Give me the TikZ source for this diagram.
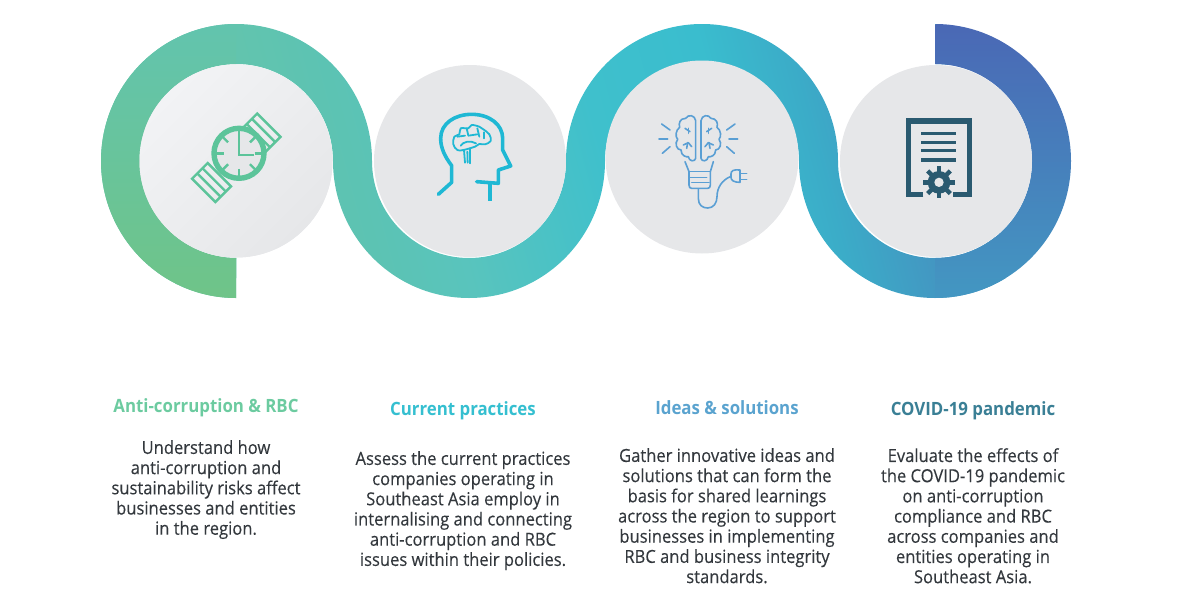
\documentclass[tikz,border=0pt]{standalone}
\usepackage{fontspec}
\setmainfont[FakeStretch=0.92,FakeBold=0.25]{Open Sans}
\newfontfamily\titlefont[FakeStretch=0.92]{Open Sans Bold}
\definecolor{rB}{HTML}{62C4AE}
\definecolor{rC}{HTML}{5CC3B3}
\definecolor{rD}{HTML}{59C4BD}
\definecolor{rE}{HTML}{3FC0CC}
\definecolor{rF}{HTML}{3ABDCE}
\definecolor{rG}{HTML}{3BACC8}
\definecolor{rH}{HTML}{4397C2}
\definecolor{rA}{HTML}{6FC488}
\definecolor{rI}{HTML}{4A68B5}
\definecolor{discgray}{HTML}{E6E7E9}
\definecolor{disclight}{HTML}{F2F3F5}
\definecolor{watchc}{HTML}{5CC49A}
\definecolor{headc}{HTML}{1FB8D4}
\definecolor{bulbc}{HTML}{5A9FD4}
\definecolor{docc}{HTML}{2A5A70}
\definecolor{bodyc}{HTML}{33383D}
\definecolor{tA}{HTML}{6CCBA0}
\definecolor{tB}{HTML}{35BFD0}
\definecolor{tC}{HTML}{5AA3CF}
\definecolor{tD}{HTML}{3A7F95}
\pgfdeclarehorizontalshading{ribbonshade}{100bp}{
 color(0bp)=(rB); color(46.6bp)=(rB); color(49.9bp)=(rC);
 color(53.4bp)=(rD); color(60.1bp)=(rE); color(65.2bp)=(rF); color(68.7bp)=(rG);
 color(72.2bp)=(rH); color(100bp)=(rH)}
\tikzset{
 disc/.style={circle,inner sep=0pt,minimum size=192pt,fill=discgray},
 body/.style={align=center,font=\fontsize{18}{20.2}\selectfont,text=bodyc,inner sep=0pt,anchor=north},
 head/.style={font=\fontsize{18.3}{20}\selectfont\titlefont,inner sep=0pt,anchor=center},
 wline/.style={draw=watchc,line width=2.4pt},
 hline/.style={draw=headc,line width=3.6pt,line join=round,line cap=round},
 hthin/.style={draw=headc,line width=1.8pt,line join=round,line cap=round},
 bline/.style={draw=bulbc,line width=1.6pt,line join=round,line cap=round},
}
\begin{document}
\begin{tikzpicture}[x=1pt,y=1pt,yscale=-1]
\useasboundingbox (0,0) rectangle (1200,600);
% ribbon
\begin{scope}
\clip (236,298)
 arc[start angle=90,end angle=270,x radius=135,y radius=137]
 arc[start angle=270,end angle=360,x radius=136,y radius=137]
 arc[start angle=180,end angle=0,x radius=97,y radius=97]
 arc[start angle=180,end angle=360,x radius=136,y radius=137]
 arc[start angle=180,end angle=0,x radius=97,y radius=97]
 arc[start angle=0,end angle=-90,x radius=97,y radius=97]
 -- (935,24)
 arc[start angle=-90,end angle=180,x radius=136,y radius=137]
 arc[start angle=0,end angle=-180,x radius=97,y radius=97]
 arc[start angle=0,end angle=180,x radius=136,y radius=137]
 arc[start angle=0,end angle=-270,x radius=96.5,y radius=97]
 -- cycle;
\shade[shading=ribbonshade,transform canvas={rotate=15}] (-300,-1500) rectangle (900,1500);
\shade[top color=rB,bottom color=rA] (80,24) rectangle (236,298);
\shade[top color=rI,bottom color=rH] (935.5,24) rectangle (1090,298);
\end{scope}
% discs
\node[disc,minimum size=193pt,shade,top color=disclight,bottom color=discgray,shading angle=45] (d1) at (236,161) {};
\node[disc] (d2) at (470,161) {};
\node[disc,minimum size=193pt] (d3) at (702,157) {};
\node[disc] (d4) at (936,161) {};
% watch
\begin{scope}[shift={(236.3,157.8)},rotate=-45]
 \foreach \s in {-1,1}{
  \begin{scope}[xscale=\s]
  \draw[wline] (24,-16.5) rectangle (46,16.5);
  \foreach \u in {31.3,38.6}{\draw[wline] (\u,-16.5) -- (\u,16.5);}
  \end{scope}}
\end{scope}
\fill[discgray] (239,153.3) circle[radius=25];
\draw[watchc,line width=5.4pt] (239,153.3) circle[radius=25];
\begin{scope}[shift={(239,153.3)}]
 \foreach \a in {0,45,90,135,180,225,315}{
  \draw[wline] (\a:15.5) -- (\a:23);}
 \draw[wline,line join=miter] (0,-23) -- (0,1.7) -- (15,1.7);
\end{scope}
% head
\begin{scope}[shift={(420,95)},scale=1/3]
 \draw[hline] (55,298) -- (95,262) -- (95,212) .. controls (75,185) and (62,160) .. (62,130)
   .. controls (62,85) and (105,58) .. (155,58) .. controls (210,58) and (248,90) .. (248,130)
   -- (248,165) -- (272,213) -- (235,225) -- (235,265) -- (170,260);
 \draw[hline,line cap=butt] (210,263) -- (210,318);
 \draw[hthin] plot[smooth cycle,tension=0.6] coordinates {(100,148) (103,125) (118,118) (122,100) (145,100) (155,90) (178,95) (190,103) (208,118) (212,138) (195,148) (178,147) (165,155) (130,165) (112,165)};
 \draw[hthin] (132,165) -- (135,203);
 \draw[hthin] (150,160) -- (150,205);
 \draw[hthin] (142,170) -- (143,203);
 \draw[hthin] (122,152) .. controls (130,140) and (150,135) .. (168,145);
 \draw[hthin] (112,125) -- (135,122);
 \draw[hthin] (140,100) -- (145,122) -- (172,118);
 \draw[hthin] (172,100) -- (178,125);
 \draw[hthin] (192,112) -- (192,130);
\end{scope}
% bulb
\begin{scope}[shift={(645,100)},scale=1/3]
 \foreach \m/\sx in {0/1,320/-1}{
  \begin{scope}[shift={(\m,0)},xscale=\sx]
   \draw[bline] (152,62) .. controls (150,45) and (130,42) .. (122,55)
     .. controls (105,55) and (100,70) .. (104,82) .. controls (92,90) and (90,110) .. (98,118)
     .. controls (88,130) and (95,150) .. (108,150) .. controls (108,168) and (125,172) .. (130,170)
     .. controls (132,185) and (150,186) .. (152,175) -- cycle;
   \draw[bline] (120,85) -- (135,95);
   \draw[bline] (130,85) -- (130,100);
   \draw[bline] (115,135) -- (130,128) -- (140,140);
   \draw[bline] (128,128) -- (125,145);
   \draw[bline] (50,72) -- (75,90);
   \draw[bline] (42,117) -- (68,117);
   \draw[bline] (52,160) -- (75,140);
  \end{scope}}
 \draw[bline] (120,185) -- (132,215) -- (132,255) .. controls (132,262) and (135,265) .. (140,265) -- (188,265)
   .. controls (193,265) and (196,262) .. (196,255) -- (196,215) -- (205,185);
 \draw[bline] (132,215) -- (196,215);
 \draw[bline] (135,232) -- (185,232);
 \draw[bline] (140,247) -- (192,247);
 \draw[bline] (160,268) -- (160,295) .. controls (160,315) and (172,324) .. (188,324)
   .. controls (205,324) and (216,310) .. (216,290) .. controls (216,262) and (232,240) .. (256,230);
 \draw[bline] (258,222) .. controls (258,212) and (265,208) .. (285,210) -- (285,247)
   .. controls (268,247) and (258,242) .. (258,232) -- cycle;
 \draw[bline] (285,220) -- (305,220);
 \draw[bline] (285,238) -- (305,238);
\end{scope}
% document
\begin{scope}[shift={(890,105)},scale=1/3]
 \draw[docc,line width=5.3pt,line join=miter] (100,268) -- (56,268) -- (56,48) -- (238,48) -- (238,268) -- (190,268);
 \foreach \y in {85,112,137,165}{\draw[docc,line width=3.3pt] (93,\y) -- (199,\y);}
 \begin{scope}[shift={(147,232)}]
  \fill[docc] (0,0) circle[radius=34];
  \foreach \a in {0,45,...,135}{\draw[docc,line width=4.4pt] (\a:-48) -- (\a:48);}
  \fill[discgray] (0,0) circle[radius=14];
 \end{scope}
\end{scope}
% titles
\node[head,text=tA] (t1) at (206,408) {Anti-corruption \& RBC};
\node[head,text=tB] (t2) at (463,411) {Current practices};
\node[head,text=tC] (t3) at (727,408) {Ideas \& solutions};
\node[head,text=tD] (t4) at (973,411) {COVID-19 pandemic};
% bodies
\node[body] (b1) at (206,440) {Understand how\\anti-corruption and\\sustainability risks affect\\businesses and entities\\in the region.};
\node[body] (b2) at (463,451) {Assess the current practices\\companies operating in\\Southeast Asia employ in\\internalising and connecting\\anti-corruption and RBC\\issues within their policies.};
\node[body] (b3) at (727,448) {Gather innovative ideas and\\solutions that can form the\\basis for shared learnings\\across the region to support\\businesses in implementing\\RBC and business integrity\\standards.};
\node[body] (b4) at (973,448) {Evaluate the effects of\\the COVID-19 pandemic\\on anti-corruption\\compliance and RBC\\across companies and\\entities operating in\\Southeast Asia.};
\end{tikzpicture}
\end{document}
